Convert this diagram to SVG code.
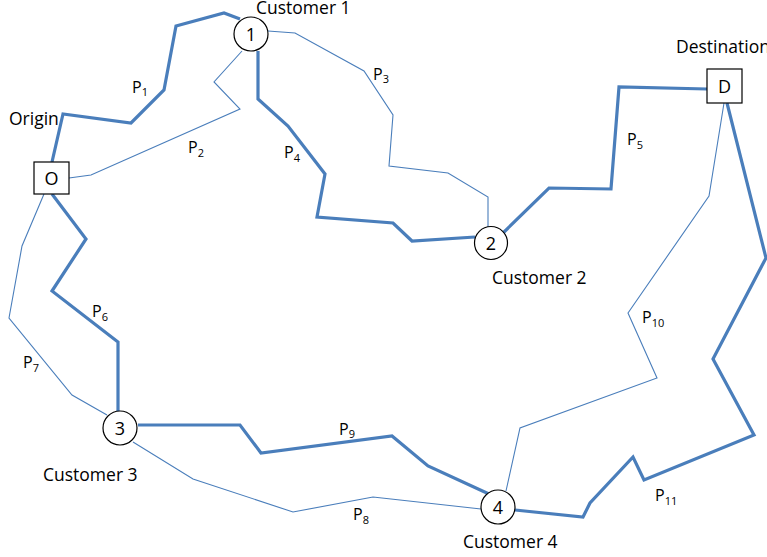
<svg xmlns="http://www.w3.org/2000/svg" width="767" height="557" viewBox="0 0 767 557">
  <style>
    .route { fill: none; stroke: #4a7ebb; stroke-linejoin: miter; }
    .main { stroke-width: 3.2; }
    .alt { stroke-width: 1.1; }
    .node { fill: #ffffff; stroke: #000000; stroke-width: 1.2; }
    .lbl { font-family: "Open Sans", "Liberation Sans", sans-serif; font-size: 17.5px; fill: #000000; }
    .id { font-family: "Open Sans", "Liberation Sans", sans-serif; font-size: 18px; fill: #000000; text-anchor: middle; }
    .p { font-family: "Open Sans", "Liberation Sans", sans-serif; font-size: 16px; fill: #000000; }
    .sub { font-size: 11px; }
  </style>
  <rect width="767" height="557" fill="#ffffff"/>

  <!-- routes between origin, customers and destination -->
  <g id="connectors">
    <polyline id="p1" class="route main" points="52,162 63,114 131,123 164,90 176,26 224,13 240,19"/>
    <polyline id="p2" class="route alt" points="69,178 91,175 240,109 214,82 242,51"/>
    <polyline id="p3" class="route alt" points="268,31 295,33 364,71 393,115 389,166 448,173 488,197 488,227"/>
    <polyline id="p4" class="route main" points="258,51 258,99 288,126 325,174 317,217 393,223 412,241 475,237"/>
    <polyline id="p5" class="route main" points="503,233 549,188 611,189 619,87 707,89"/>
    <polyline id="p6" class="route main" points="52,194 86,239 52,291 118,342 118,411"/>
    <polyline id="p7" class="route alt" points="44,194 22,246 9,318 72,395 107,415"/>
    <polyline id="p8" class="route alt" points="133,442 193,479 293,512 373,497 481,509"/>
    <polyline id="p9" class="route main" points="138,425 240,425 261,453 392,436 428,466 489,494"/>
    <polyline id="p10" class="route alt" points="724,103 709,196 628,313 657,378 520,428 506,491"/>
    <polyline id="p11" class="route main" points="727,103 766,258 713,359 754,435 644,480 633,457 590,503 583,517 515,510"/>
  </g>

  <!-- route labels -->
  <g id="route-labels">
    <text class="p" x="132" y="93">P<tspan class="sub" dy="3">1</tspan></text>
    <text class="p" x="188" y="153">P<tspan class="sub" dy="4">2</tspan></text>
    <text class="p" x="373" y="80">P<tspan class="sub" dy="3">3</tspan></text>
    <text class="p" x="284" y="158">P<tspan class="sub" dy="4">4</tspan></text>
    <text class="p" x="627" y="145">P<tspan class="sub" dy="4">5</tspan></text>
    <text class="p" x="92" y="317">P<tspan class="sub" dy="4">6</tspan></text>
    <text class="p" x="23" y="368">P<tspan class="sub" dy="4">7</tspan></text>
    <text class="p" x="353" y="520">P<tspan class="sub" dy="4">8</tspan></text>
    <text class="p" x="339" y="435">P<tspan class="sub" dy="3">9</tspan></text>
    <text class="p" x="642" y="323">P<tspan class="sub" dy="4">10</tspan></text>
    <text class="p" x="655" y="501">P<tspan class="sub" dy="4">11</tspan></text>
  </g>

  <g id="origin">
    <rect class="node" x="34" y="162" width="35" height="32"/>
    <text class="id" x="51.5" y="184.5">O</text>
    <text class="lbl" x="9" y="125">Origin</text>
  </g>

  <g id="customer-1">
    <circle class="node" cx="251" cy="34" r="17"/>
    <text class="id" x="251" y="40.5">1</text>
    <text class="lbl" x="256" y="13.5">Customer 1</text>
  </g>

  <g id="customer-2">
    <circle class="node" cx="491" cy="243" r="16.5"/>
    <text class="id" x="491" y="249.5">2</text>
    <text class="lbl" x="492" y="284">Customer 2</text>
  </g>

  <g id="customer-3">
    <circle class="node" cx="120" cy="428" r="17"/>
    <text class="id" x="120" y="434.5">3</text>
    <text class="lbl" x="43" y="481">Customer 3</text>
  </g>

  <g id="customer-4">
    <circle class="node" cx="498" cy="507" r="17"/>
    <text class="id" x="498" y="513.5">4</text>
    <text class="lbl" x="463" y="548">Customer 4</text>
  </g>

  <g id="destination">
    <rect class="node" x="707" y="69" width="35" height="34"/>
    <text class="id" x="724.5" y="92.5">D</text>
    <text class="lbl" x="676" y="53">Destination</text>
  </g>
</svg>
